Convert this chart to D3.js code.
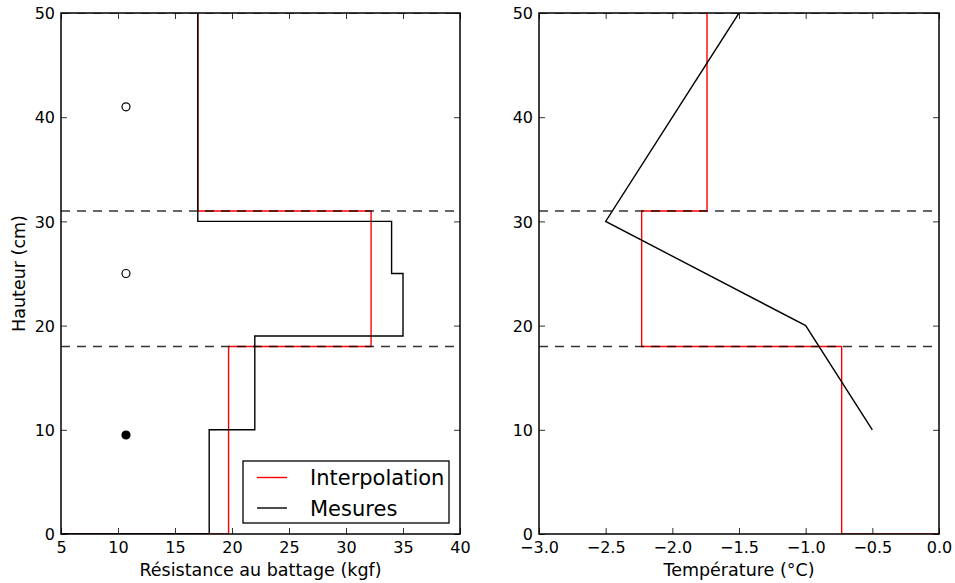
<!DOCTYPE html>
<html>
<head>
<meta charset="utf-8">
<script src="https://cdn.jsdelivr.net/npm/d3@7/dist/d3.min.js"></script>
<style>
  html, body { margin: 0; padding: 0; background: #fff; }
  svg { display: block; }
  text { font-family: "DejaVu Sans", sans-serif; fill: #000; }
</style>
</head>
<body>
<svg id="chart" width="955" height="583"></svg>
<script>
// Shared vertical axis: height in the snow/soil column (cm)
const heightDomain = [0, 50];
const heightTicks = [0, 10, 20, 30, 40, 50];
// Layer boundaries (dashed lines)
const layerBounds = [50, 31, 18];

// Left panel: ram resistance (kgf)
const resistDomain = [5, 40];
const resistTicks = [5, 10, 15, 20, 25, 30, 35, 40];
const resistMesX = [17, 17, 34, 34, 35, 35, 22, 22, 18, 18, 0];
const resistMesH = [50, 30, 30, 25, 25, 19, 19, 10, 10, 0, 0];
const resistIntX = [17, 17, 32.2, 32.2, 19.7, 19.7, 0];
const resistIntH = [50, 31, 31, 18, 18, 0, 0];
// Sample markers (hollow / filled)
const markerX = [10.7, 10.7, 10.7];
const markerH = [41, 25, 9.5];
const markerFilled = [false, false, true];

// Right panel: temperature (°C)
const tempDomain = [-3, 0];
const tempTicks = [-3.0, -2.5, -2.0, -1.5, -1.0, -0.5, 0.0];
const tempMesX = [-1.5, -2.5, -1.0, -0.5];
const tempMesH = [50, 30, 20, 10];
const tempIntX = [-1.74, -1.74, -2.23, -2.23, -0.73, -0.73, 0];
const tempIntH = [50, 31, 31, 18, 18, 0, 0];

const legendLabels = ["Interpolation", "Mesures"];
const legendColors = ["#ff0000", "#000000"];

const svg = d3.select("#chart");
const plotTop = 13, plotBottom = 534;
const y = d3.scaleLinear().domain(heightDomain).range([plotBottom, plotTop]);

function zip(xs, hs) { return xs.map((v, i) => [v, hs[i]]); }

function panel(id, left, right, xDomain, xTicks, xFmt, xLabel, series, extra) {
  const x = d3.scaleLinear().domain(xDomain).range([left, right]);
  const g = svg.append("g");
  g.append("clipPath").attr("id", id)
    .append("rect").attr("x", left).attr("y", plotTop)
    .attr("width", right - left).attr("height", plotBottom - plotTop);
  const plot = g.append("g").attr("clip-path", `url(#${id})`);
  const line = d3.line().x(d => x(d[0])).y(d => y(d[1]));

  series.forEach(s => {
    plot.append("path").datum(s.pts)
      .attr("d", line).attr("fill", "none")
      .attr("stroke", s.color).attr("stroke-width", 1.4);
  });

  // Layer boundaries
  layerBounds.forEach(h => {
    plot.append("line")
      .attr("x1", left).attr("x2", right)
      .attr("y1", y(h)).attr("y2", y(h))
      .attr("stroke", "#000").attr("stroke-opacity", 0.8)
      .attr("stroke-width", 1.4).attr("stroke-dasharray", "9,7");
  });

  if (extra) extra(plot, x);

  // Axes: ticks inward on all four sides
  const tickLen = 6;
  const axB = d3.axisBottom(x).tickValues(xTicks).tickFormat(xFmt).tickSizeInner(-tickLen).tickSizeOuter(0).tickPadding(8);
  const axT = d3.axisTop(x).tickValues(xTicks).tickFormat("").tickSizeInner(-tickLen).tickSizeOuter(0);
  const axL = d3.axisLeft(y).tickValues(heightTicks).tickFormat(d3.format("d")).tickSizeInner(-tickLen).tickSizeOuter(0).tickPadding(6);
  const axR = d3.axisRight(y).tickValues(heightTicks).tickFormat("").tickSizeInner(-tickLen).tickSizeOuter(0);
  const gb = g.append("g").attr("transform", `translate(0,${plotBottom})`).call(axB);
  const gt = g.append("g").attr("transform", `translate(0,${plotTop})`).call(axT);
  const gl = g.append("g").attr("transform", `translate(${left},0)`).call(axL);
  const gr = g.append("g").attr("transform", `translate(${right},0)`).call(axR);
  [gb, gt, gl, gr].forEach(a => {
    a.select(".domain").remove();
    a.selectAll(".tick line").attr("stroke", "#333").attr("stroke-width", 1);
    a.selectAll("text").style("font-family", "DejaVu Sans, sans-serif").style("font-size", "16px").attr("fill", "#000");
  });
  gl.selectAll("text").attr("dy", "0.36em");
  g.append("rect").attr("x", left).attr("y", plotTop)
    .attr("width", right - left).attr("height", plotBottom - plotTop)
    .attr("fill", "none").attr("stroke", "#000").attr("stroke-width", 1.5);

  g.append("text").attr("x", (left + right) / 2).attr("y", 576)
    .attr("text-anchor", "middle").style("font-size", "17.5px").text(xLabel);
  return x;
}

const fmt1 = d3.format(".1f");

panel("clipL", 61, 460, resistDomain, resistTicks, d3.format("d"),
  "Résistance au battage (kgf)",
  [
    { pts: zip(resistIntX, resistIntH), color: legendColors[0] },
    { pts: zip(resistMesX, resistMesH), color: legendColors[1] }
  ],
  (plot, x) => {
    plot.selectAll("circle.mk").data(markerX.map((v, i) => ({ v, h: markerH[i], f: markerFilled[i] })))
      .join("circle").attr("class", "mk")
      .attr("cx", d => x(d.v)).attr("cy", d => y(d.h)).attr("r", 4)
      .attr("fill", d => d.f ? "#000" : "#fff")
      .attr("stroke", "#000").attr("stroke-width", 1.2);
  });

panel("clipR", 539, 939, tempDomain, tempTicks, fmt1,
  "Température (°C)",
  [
    { pts: zip(tempIntX, tempIntH), color: legendColors[0] },
    { pts: zip(tempMesX, tempMesH), color: legendColors[1] }
  ]);

// Y axis title
svg.append("text")
  .attr("transform", `translate(25,${(plotTop + plotBottom) / 2}) rotate(-90)`)
  .attr("text-anchor", "middle").style("font-size", "17.5px").text("Hauteur (cm)");

// Legend
const lg = svg.append("g");
lg.append("rect").attr("x", 243).attr("y", 461).attr("width", 206).attr("height", 62)
  .attr("fill", "#fff").attr("stroke", "#000").attr("stroke-width", 1.3);
legendLabels.forEach((lab, i) => {
  const yy = 477.5 + i * 30.5;
  lg.append("line").attr("x1", 257).attr("x2", 287).attr("y1", yy).attr("y2", yy)
    .attr("stroke", legendColors[i]).attr("stroke-width", 1.4);
  lg.append("text").attr("x", 310).attr("y", yy).attr("dy", "0.36em")
    .style("font-size", "21px").text(lab);
});
</script>
</body>
</html>
